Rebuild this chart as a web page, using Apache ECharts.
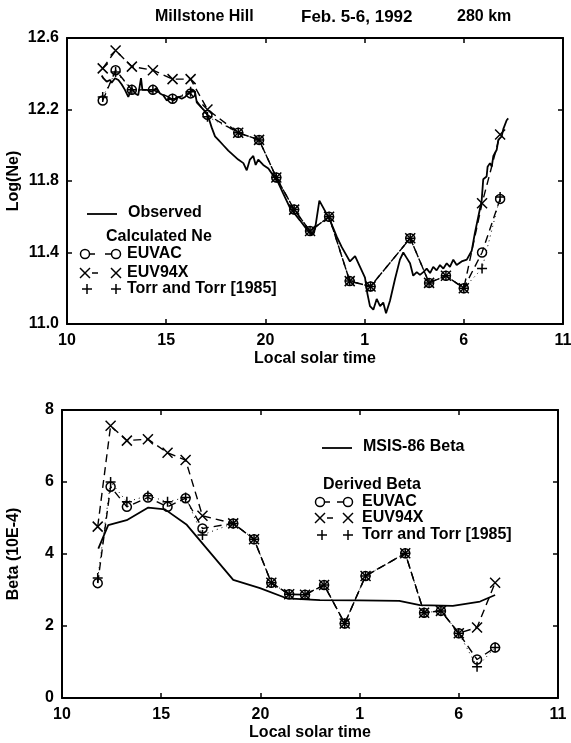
<!DOCTYPE html>
<html>
<head>
<meta charset="utf-8">
<script src="https://cdn.jsdelivr.net/npm/echarts@6/dist/echarts.min.js"></script>
<style>
html,body{margin:0;padding:0;background:#fff;}
#chart{width:571px;height:743px;}
</style>
</head>
<body>
<div id="chart"></div>
<script>
// ---- data (hours past midnight of Feb 5; 25 = 1 LT, 30 = 6 LT) ----
const xTicks = [10, 15, 20, 25, 30, 35];
const modelHours = [11.8, 12.45, 13.27, 14.33, 15.32, 16.23, 17.08, 18.63, 19.68, 20.55, 21.45, 22.25, 23.21, 24.25, 25.3, 27.3, 28.25, 29.1, 30.0, 30.92, 31.83];

// Top panel: log(Ne)
const neEUVAC  = [12.25, 12.42, 12.31, 12.31, 12.26, 12.29, 12.17, 12.07, 12.03, 11.82, 11.64, 11.52, 11.60, 11.24, 11.21, 11.48, 11.23, 11.27, 11.20, 11.40, 11.70];
const neEUV94X = [12.43, 12.53, 12.44, 12.42, 12.37, 12.37, 12.20, 12.07, 12.03, 11.82, 11.64, 11.52, 11.60, 11.24, 11.21, 11.48, 11.23, 11.27, 11.20, 11.675, 12.06];
const neTorr   = [12.27, 12.41, 12.31, 12.31, 12.26, 12.30, 12.16, 12.07, 12.03, 11.82, 11.64, 11.52, 11.60, 11.24, 11.21, 11.48, 11.23, 11.27, 11.20, 11.31, 11.71];

const obsHours = [11.75, 11.83, 12.0, 12.17, 12.25, 12.42, 12.59, 12.76, 12.92, 13.09, 13.26, 13.43, 13.59, 13.73, 13.8, 14.02, 14.27, 14.52, 14.69, 14.85, 15.03, 15.19, 15.36, 15.61, 15.78, 15.95, 16.11, 16.29, 16.45, 16.54, 16.7, 16.96, 17.12, 17.29, 17.46, 17.63, 17.88, 18.13, 18.38, 18.63, 18.89, 19.06, 19.22, 19.39, 19.51, 19.64, 19.89, 20.15, 20.4, 20.65, 20.9, 21.24, 21.74, 22.08, 22.33, 22.5, 22.72, 22.92, 23.26, 23.59, 23.85, 24.26, 24.52, 24.77, 25.02, 25.14, 25.27, 25.44, 25.61, 25.78, 25.94, 26.08, 26.28, 26.53, 26.78, 26.95, 27.12, 27.29, 27.45, 27.63, 27.79, 27.96, 28.13, 28.3, 28.46, 28.63, 28.8, 28.97, 29.14, 29.3, 29.47, 29.64, 29.89, 30.15, 30.4, 30.56, 30.73, 30.9, 30.98, 31.15, 31.2, 31.32, 31.41, 31.49, 31.66, 31.74, 31.91, 31.99, 32.16, 32.24];
const obsNe    = [12.39, 12.375, 12.356, 12.365, 12.35, 12.375, 12.365, 12.34, 12.31, 12.27, 12.32, 12.29, 12.28, 12.375, 12.31, 12.31, 12.30, 12.32, 12.29, 12.28, 12.25, 12.26, 12.25, 12.27, 12.26, 12.27, 12.29, 12.31, 12.30, 12.24, 12.22, 12.19, 12.16, 12.10, 12.05, 12.03, 12.0, 11.97, 11.945, 11.92, 11.90, 11.86, 11.92, 11.94, 11.89, 11.92, 11.89, 11.87, 11.83, 11.79, 11.73, 11.65, 11.58, 11.53, 11.50, 11.53, 11.69, 11.65, 11.58, 11.49, 11.43, 11.35, 11.38, 11.32, 11.26, 11.17, 11.10, 11.08, 11.14, 11.10, 11.12, 11.06, 11.13, 11.25, 11.36, 11.40, 11.37, 11.34, 11.27, 11.29, 11.275, 11.29, 11.31, 11.285, 11.32, 11.30, 11.33, 11.31, 11.34, 11.32, 11.36, 11.33, 11.35, 11.36, 11.41, 11.51, 11.60, 11.69, 11.81, 11.825, 11.88, 11.90, 11.88, 11.94, 11.975, 12.03, 12.05, 12.09, 12.14, 12.15];

// Bottom panel: Beta (10E-4)
const betaEUVAC  = [3.19, 5.87, 5.31, 5.57, 5.31, 5.55, 4.71, 4.85, 4.41, 3.20, 2.88, 2.87, 3.14, 2.07, 3.39, 4.02, 2.37, 2.42, 1.80, 1.07, 1.40];
const betaEUV94X = [4.76, 7.56, 7.15, 7.19, 6.81, 6.61, 5.06, 4.85, 4.41, 3.20, 2.88, 2.87, 3.14, 2.07, 3.39, 4.02, 2.37, 2.42, 1.80, 1.96, 3.20];
const betaTorr   = [3.33, 6.00, 5.45, 5.62, 5.45, 5.57, 4.53, 4.85, 4.41, 3.20, 2.88, 2.87, 3.14, 2.07, 3.39, 4.02, 2.37, 2.42, 1.80, 0.87, 1.40];
const msisHours = [11.83, 12.33, 13.26, 14.35, 15.19, 16.29, 18.63, 19.98, 21.32, 23.0, 25.0, 27.0, 28.04, 29.7, 31.07, 31.83];
const msisBeta  = [4.15, 4.8, 4.94, 5.29, 5.24, 4.81, 3.28, 3.05, 2.77, 2.72, 2.71, 2.70, 2.58, 2.56, 2.68, 2.86];

// ---- chart ----
const FONT = '"Liberation Sans", Arial, Helvetica, sans-serif';
const txt = { color: '#000', fontFamily: FONT, fontWeight: 'bold', fontSize: 16 };
const pairs = (xs, ys) => xs.map((x, i) => [x, ys[i]]);
const hourLabel = v => (v > 24 ? v - 24 : v);

const SYM_X = 'path://M0,0L10,10M10,0L0,10';
const SYM_PLUS = 'path://M5,0L5,10M0,5L10,5';

function xAxes(grid) {
  const base = {
    gridIndex: grid, type: 'value', min: 10, max: 35, interval: 5,
    splitLine: { show: false },
    axisLine: { show: true, onZero: false, lineStyle: { color: '#000', width: 2 } },
    axisTick: { show: true, inside: true, length: 5, lineStyle: { color: '#000', width: 1.5 } }
  };
  return [
    Object.assign({}, base, {
      position: 'bottom',
      axisLabel: Object.assign({ margin: 9, formatter: hourLabel }, txt),
      name: 'Local solar time', nameLocation: 'middle', nameGap: 27, nameMoveOverlap: false,
      nameTextStyle: txt
    }),
    Object.assign({}, base, { position: 'top', axisLabel: { show: false } })
  ];
}
function yAxes(grid, min, max, interval, name, fmt, gap) {
  const base = {
    gridIndex: grid, type: 'value', min, max, interval,
    splitLine: { show: false },
    axisLine: { show: true, onZero: false, lineStyle: { color: '#000', width: 2 } },
    axisTick: { show: true, inside: true, length: 5, lineStyle: { color: '#000', width: 1.5 } }
  };
  return [
    Object.assign({}, base, {
      position: 'left',
      axisLabel: Object.assign({ margin: 8, formatter: fmt }, txt),
      name, nameLocation: 'middle', nameGap: gap, nameMoveOverlap: false, nameTextStyle: txt
    }),
    Object.assign({}, base, { position: 'right', axisLabel: { show: false } })
  ];
}

function modelSeries(xi, yi, data, kind) {
  const s = {
    type: 'line', xAxisIndex: xi, yAxisIndex: yi, data, z: 3,
    lineStyle: { color: '#000', width: 1.4, type: [8, 5] },
    itemStyle: { color: 'transparent', borderColor: '#000', borderWidth: 1.5 },
    showAllSymbol: true, silent: true
  };
  if (kind === 'circle') { s.symbol = 'circle'; s.symbolSize = 9; }
  if (kind === 'x') { s.symbol = SYM_X; s.symbolSize = 10; }
  if (kind === 'plus') { s.symbol = SYM_PLUS; s.symbolSize = 10; s.lineStyle = { color: '#000', width: 1, type: [1, 4] }; }
  return s;
}

// legend helpers (graphic)
const LW = 1.5;
const gCircle = (cx, cy) => ({ type: 'circle', shape: { cx, cy, r: 4.5 }, style: { fill: 'none', stroke: '#000', lineWidth: LW } });
const gLine = (x1, y1, x2, y2, w) => ({ type: 'line', shape: { x1, y1, x2, y2 }, style: { stroke: '#000', lineWidth: w || LW } });
const gX = (cx, cy) => [gLine(cx - 5, cy - 5, cx + 5, cy + 5), gLine(cx - 5, cy + 5, cx + 5, cy - 5)];
const gPlus = (cx, cy) => [gLine(cx - 5, cy, cx + 5, cy), gLine(cx, cy - 5, cx, cy + 5)];
const gText = (x, y, text, size) => ({
  type: 'text', x, y,
  style: { text, fill: '#000', font: 'bold ' + (size || 16) + 'px ' + FONT, textVerticalAlign: 'middle', verticalAlign: 'middle' }
});

function legendBlock(x0, lineY, lineText, headX, headY, headText, rowX1, rowX2, textX, rowYs) {
  const els = [];
  els.push(gLine(x0, lineY, x0 + 30, lineY, 1.8));
  els.push(gText(x0 + 41, lineY - 1, lineText));
  els.push(gText(headX, headY, headText));
  const [y1, y2, y3] = rowYs;
  els.push(gCircle(rowX1, y1), gLine(rowX1 + 4, y1, rowX1 + 10, y1), gLine(rowX2 - 11, y1, rowX2 - 5, y1), gCircle(rowX2, y1));
  els.push(gText(textX, y1, 'EUVAC'));
  els.push(...gX(rowX1, y2), gLine(rowX1 + 7, y2, rowX1 + 13, y2), ...gX(rowX2, y2));
  els.push(gText(textX, y2, 'EUV94X'));
  els.push(...gPlus(rowX1 + 2, y3), ...gPlus(rowX2, y3));
  els.push(gText(textX, y3, 'Torr and Torr [1985]'));
  return els;
}

const graphics = [
  gText(155, 17, 'Millstone Hill', 16),
  gText(301, 17, 'Feb. 5-6, 1992', 17),
  gText(457, 17, '280 km', 16),
  ...legendBlock(87, 214, 'Observed', 106, 237, 'Calculated Ne', 85, 116, 127, [254, 273, 289]),
  ...legendBlock(322, 448, 'MSIS-86 Beta', 323, 485, 'Derived Beta', 320, 348, 362, [502, 518, 535])
];

const option = {
  animation: false,
  backgroundColor: '#fff',
  grid: [
    { left: 67, top: 38, width: 496, height: 286, outerBoundsMode: 'none', containLabel: false },
    { left: 62, top: 410, width: 496, height: 288, outerBoundsMode: 'none', containLabel: false }
  ],
  xAxis: [...xAxes(0), ...xAxes(1)],
  yAxis: [
    ...yAxes(0, 11.0, 12.6, 0.4, 'Log(Ne)', v => v.toFixed(1), 45),
    ...yAxes(1, 0, 8, 2, 'Beta (10E-4)', v => String(v), 40)
  ],
  series: [
    { type: 'line', xAxisIndex: 0, yAxisIndex: 0, data: pairs(obsHours, obsNe), showSymbol: false, symbol: 'none',
      lineStyle: { color: '#000', width: 1.8 }, z: 2, silent: true },
    modelSeries(0, 0, pairs(modelHours, neEUVAC), 'circle'),
    modelSeries(0, 0, pairs(modelHours, neEUV94X), 'x'),
    modelSeries(0, 0, pairs(modelHours, neTorr), 'plus'),
    { type: 'line', xAxisIndex: 2, yAxisIndex: 2, data: pairs(msisHours, msisBeta), showSymbol: false, symbol: 'none',
      lineStyle: { color: '#000', width: 1.8 }, z: 2, silent: true },
    modelSeries(2, 2, pairs(modelHours, betaEUVAC), 'circle'),
    modelSeries(2, 2, pairs(modelHours, betaEUV94X), 'x'),
    modelSeries(2, 2, pairs(modelHours, betaTorr), 'plus')
  ],
  graphic: { elements: graphics }
};

const chart = echarts.init(document.getElementById('chart'), null, { renderer: 'canvas' });
chart.setOption(option);
</script>
</body>
</html>
